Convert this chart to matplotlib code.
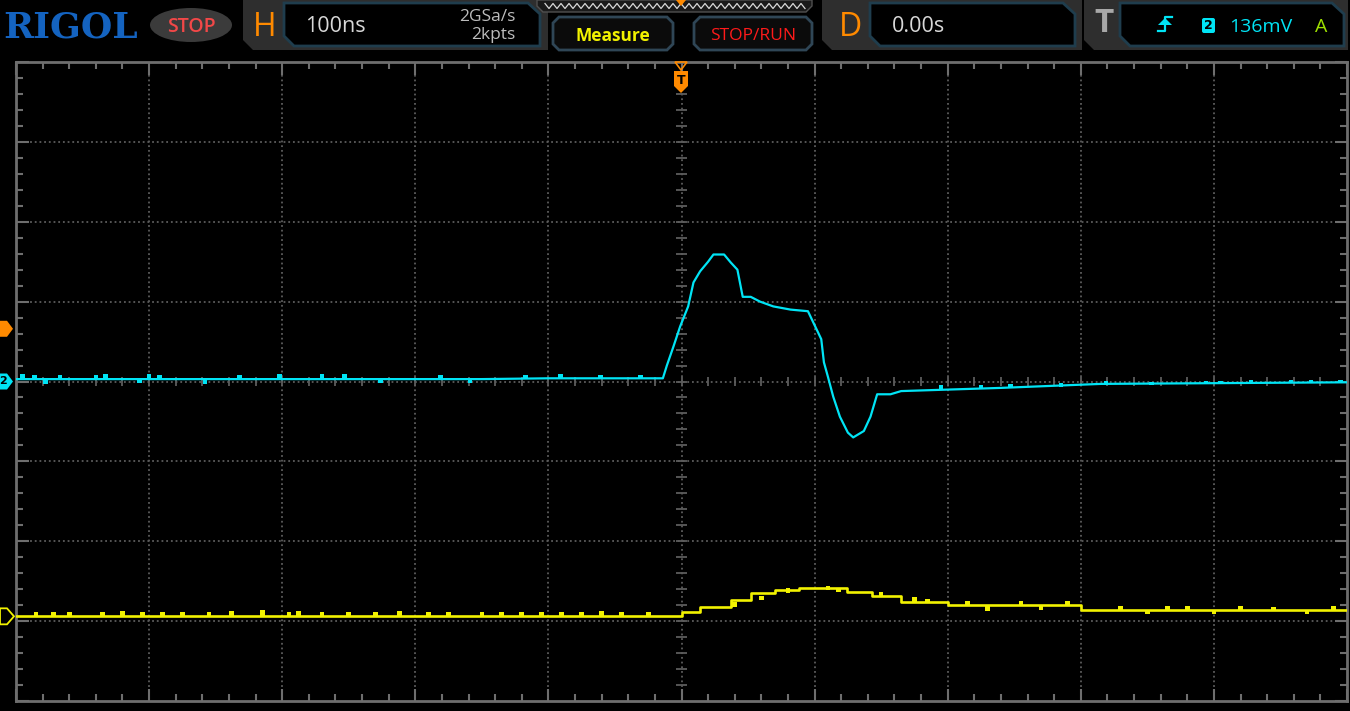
import numpy as np
import matplotlib.pyplot as plt
from matplotlib.patches import Polygon, FancyBboxPatch, Ellipse

# Screen geometry: 10 x 8 divisions, 100 ns/div
W, H = 1350, 711
X0, X1, Y0, Y1 = 16, 1347, 62, 701

# CH2 (cyan) trace: time in ns, level in divisions
ch2_t = [-500, -150, -100, -14, -11, -6, -1, 5, 9, 14, 20, 24, 32, 37, 42, 46, 52, 59, 69, 82,
         95, 99, 105, 107, 110, 114, 119, 125, 129, 137, 142, 147, 157, 165, 240, 315, 500]
ch2_v = [0.03, 0.03, 0.04, 0.04, 0.20, 0.44, 0.69, 0.94, 1.24, 1.38, 1.50, 1.59, 1.59, 1.49, 1.40,
         1.06, 1.06, 1.00, 0.94, 0.90, 0.88, 0.74, 0.53, 0.24, 0.06, -0.19, -0.44, -0.64, -0.70,
         -0.62, -0.44, -0.16, -0.16, -0.12, -0.08, -0.03, -0.01]

# CH2 noise glitches: time, base, peak (div)
ch2_glitch_t = [-495, -486, -478, -467, -440, -433, -407, -400, -392, -358, -332, -302, -270,
                -253, -226, -181, -159, -117, -91, -61, -31,
                195, 225, 247, 285, 319, 353, 394, 405, 428, 458, 473, 495]
ch2_glitch_lo = [0.03, 0.03, 0.03, 0.03, 0.03, 0.03, 0.03, 0.03, 0.03, 0.03, 0.03, 0.03, 0.03,
                 0.03, 0.03, 0.03, 0.03, 0.03, 0.04, 0.04, 0.04,
                 -0.10, -0.09, -0.08, -0.07, -0.04, -0.05, -0.03, -0.03, -0.02, -0.02, -0.02, -0.02]
ch2_glitch_hi = [0.09, 0.08, -0.03, 0.08, 0.08, 0.09, -0.02, 0.09, 0.08, -0.03, 0.08, 0.09, 0.10,
                 0.09, -0.02, 0.08, -0.02, 0.08, 0.09, 0.08, 0.08,
                 -0.05, -0.04, -0.03, -0.02, 0.01, 0.00, 0.01, 0.01, 0.02, 0.02, 0.02, 0.02]

# CH1 (yellow) trace, stepped
ch1_t = [-500, 0, 14, 37, 52, 70, 88, 124, 143, 165, 200, 300, 500]
ch1_v = [-2.94, -2.88, -2.82, -2.73, -2.65, -2.61, -2.58, -2.63, -2.69, -2.76, -2.80, -2.86, -2.86]

ch1_glitch_t = [-485, -472, -460, -435, -420, -405, -390, -375, -355, -338, -315, -295, -288, -270,
                -250, -230, -212, -190, -175, -150, -135, -120, -105, -90, -75, -60, -45, -25,
                40, 60, 80, 110, 118, 150, 175, 185, 215, 230, 255, 270, 290, 330, 350, 365,
                380, 400, 420, 445, 470, 490]
ch1_glitch_lo = [-2.94] * 28 + [-2.82, -2.73, -2.65, -2.61, -2.58, -2.69, -2.76, -2.76, -2.80,
                                -2.80, -2.80, -2.80, -2.80, -2.86, -2.86, -2.86, -2.86, -2.86,
                                -2.86, -2.86, -2.86, -2.86]
ch1_glitch_hi = [-2.88, -2.89, -2.88, -2.89, -2.87, -2.89, -2.88, -2.88, -2.89, -2.87, -2.86, -2.88,
                 -2.87, -2.89, -2.88, -2.89, -2.87, -2.89, -2.88, -2.89, -2.88, -2.89, -2.88, -2.89,
                 -2.88, -2.87, -2.88, -2.89, -2.76, -2.68, -2.58, -2.56, -2.63, -2.64, -2.70,
                 -2.72, -2.75, -2.87, -2.75, -2.86, -2.75, -2.81, -2.91, -2.81, -2.81, -2.91,
                 -2.81, -2.82, -2.91, -2.81]

trig_level = 0.66
ch1_offset = -2.94

CYAN = '#00e4f5'
YEL = '#f2f200'
ORANGE = '#ff8a00'
GRID = '#5c5c5c'
FRAME = '#6e6e6e'

fig = plt.figure(figsize=(W / 100, H / 100), dpi=100, facecolor='black')
ax = fig.add_axes([X0 / W, 1 - Y1 / H, (X1 - X0) / W, (Y1 - Y0) / H], facecolor='black')
ax.set_xlim(-500, 500)
ax.set_ylim(-4, 4)

# grid
for gx in np.arange(-400, 401, 100):
    ax.axvline(gx, color=GRID, lw=1.3, ls=(0, (1, 1.6)), zorder=1)
for gy in np.arange(-3, 4, 1):
    ax.axhline(gy, color=GRID, lw=1.3, ls=(0, (1, 1.6)), zorder=1)

# center-line ticks
mt = np.arange(-480, 481, 20)
ax.vlines(mt, -0.055, 0.055, color=GRID, lw=1.3, zorder=1)
mv = np.arange(-3.8, 3.81, 0.2)
ax.hlines(mv, -3.8, 3.8, color=GRID, lw=1.3, zorder=1)

for s in ax.spines.values():
    s.set_color(FRAME)
    s.set_linewidth(2)
ax.set_xticks(np.arange(-500, 501, 100))
ax.set_xticks(np.arange(-500, 501, 20), minor=True)
ax.set_yticks(np.arange(-4, 5, 1))
ax.set_yticks(np.arange(-4, 4.01, 0.2), minor=True)
ax.tick_params(which='both', direction='in', top=True, right=True, color=FRAME, width=1.5,
               labelbottom=False, labelleft=False)
ax.tick_params(which='major', length=9)
ax.tick_params(which='minor', length=5)

# traces
ax.plot(ch1_t, ch1_v, color=YEL, lw=1.9, drawstyle='steps-post', zorder=3)
lo = np.array(ch1_glitch_lo)
hi = np.array(ch1_glitch_hi)
ax.bar(ch1_glitch_t, hi - lo, bottom=lo, width=3.5, color=YEL, linewidth=0, zorder=3)
ax.plot(ch2_t, ch2_v, color=CYAN, lw=1.6, zorder=4)
lo = np.array(ch2_glitch_lo)
hi = np.array(ch2_glitch_hi)
ax.bar(ch2_glitch_t, hi - lo, bottom=lo, width=3.5, color=CYAN, linewidth=0, zorder=4)

# overlay in pixel coordinates for the screen chrome
ov = fig.add_axes([0, 0, 1, 1], facecolor='none')
ov.set_xlim(0, W)
ov.set_ylim(H, 0)
ov.axis('off')


def ypx(v):
    return Y0 + (4 - v) * (Y1 - Y0) / 8


def poly(pts, fc, ec='none', lw=1.0, z=5):
    ov.add_patch(Polygon(pts, closed=True, fc=fc, ec=ec, lw=lw, zorder=z))


# RIGOL logo and STOP badge
ov.text(3, 27, 'RIGOL', color='#1463c0', fontsize=26, fontweight='bold', family='DejaVu Serif',
        va='center', ha='left')
ov.add_patch(Ellipse((191, 25), 82, 34, fc='#3b3b3b', ec='none', zorder=5))
ov.text(191, 27, 'STOP', color='#f24848', fontsize=14, va='center', ha='center',
        family='Open Sans', fontweight='semibold', zorder=6)

# tabs: H, D, T
for (x_a, x_b, bx_a, bx_b) in [(243, 548, 284, 540), (822, 1082, 870, 1075), (1084, 1348, 1120, 1344)]:
    poly([(x_a, 0), (x_b, 0), (x_b, 50), (x_a + 10, 50), (x_a, 40)], '#2e2e2e')
    poly([(bx_a, 3), (bx_b - 12, 3), (bx_b, 14), (bx_b, 46), (bx_a + 10, 46), (bx_a, 36)],
         'black', ec='#1f3d4d', lw=2, z=6)

ov.text(265, 27, 'H', color=ORANGE, fontsize=23, va='center', ha='center', family='Open Sans', zorder=7)
ov.text(305, 27, '100ns', color='#d8d8d8', fontsize=15.5, va='center', ha='left', family='Open Sans', zorder=7)
ov.text(515, 17, '2GSa/s', color='#bcbcbc', fontsize=12.5, va='center', ha='right', family='Open Sans', zorder=7)
ov.text(515, 35, '2kpts', color='#bcbcbc', fontsize=12.5, va='center', ha='right', family='Open Sans', zorder=7)

ov.text(851, 27, 'D', color=ORANGE, fontsize=23, va='center', ha='center', family='Open Sans', zorder=7)
ov.text(892, 27, '0.00s', color='#d8d8d8', fontsize=15.5, va='center', ha='left', family='Open Sans', zorder=7)

ov.text(1104, 24, 'T', color='#a8a8a8', fontsize=24, va='center', ha='center', family='Open Sans',
        fontweight='bold', zorder=7)
ov.plot([1158, 1165, 1165, 1172], [31, 31, 17, 17], color=CYAN, lw=1.6, zorder=7)
poly([(1158, 25), (1172, 25), (1165, 18)], CYAN, z=7)
ov.add_patch(FancyBboxPatch((1202, 18), 13, 15, boxstyle='round,pad=0,rounding_size=2',
                            fc=CYAN, ec='none', zorder=7))
ov.text(1208.5, 25.5, '2', color='black', fontsize=9, fontweight='bold', va='center', ha='center', zorder=8)
ov.text(1229, 27, '136mV', color=CYAN, fontsize=14, va='center', ha='left', family='Open Sans', zorder=7)
ov.text(1321, 27, 'A', color='#9ee000', fontsize=14, va='center', ha='center', family='Open Sans', zorder=7)

# zigzag ribbon at top center
poly([(537, 0), (812, 0), (812, 6), (806, 12), (543, 12), (537, 6)], '#1a1a1a', ec='#505050', z=5)
zx = np.arange(545, 806, 4)
zy = np.where(np.arange(len(zx)) % 2 == 0, 3.5, 8.5)
ov.plot(zx, zy, color='#d8d8d8', lw=0.9, zorder=6)
poly([(676, 0), (686, 0), (681, 6)], ORANGE, z=7)

# Measure / STOP/RUN buttons
for (xa, xb, label, col) in [(553, 673, 'Measure', YEL), (694, 812, 'STOP/RUN', '#ff1a1a')]:
    poly([(xa + 6, 17), (xb - 6, 17), (xb, 23), (xb, 44), (xb - 6, 50), (xa + 6, 50), (xa, 44), (xa, 23)],
         '#0b0b0b', ec='#2f4656', lw=2)
    ov.text((xa + xb) / 2, 36, label, color=col, fontsize=12.5, va='center', ha='center',
            family='Open Sans', fontweight='bold' if label == 'Measure' else 'normal', zorder=7)

# trigger position marker at top
poly([(675, 62), (687, 62), (681, 70)], 'none', ec=ORANGE, lw=1.2, z=8)
poly([(674, 71), (688, 71), (688, 86), (681, 93), (674, 86)], ORANGE, z=8)
ov.text(681, 80, 'T', color='black', fontsize=9, fontweight='bold', va='center', ha='center', zorder=9)

# left markers
ty = ypx(trig_level)
poly([(0, ty - 8), (7, ty - 8), (13, ty), (7, ty + 8), (0, ty + 8)], ORANGE, z=8)
cy = ypx(0)
poly([(0, cy - 8), (7, cy - 8), (13, cy), (7, cy + 8), (0, cy + 8)], CYAN, z=8)
ov.text(3, cy, '2', color='black', fontsize=8, fontweight='bold', va='center', ha='center', zorder=9)
yy = ypx(ch1_offset)
poly([(0, yy - 8), (7, yy - 8), (14, yy), (7, yy + 8), (0, yy + 8)], 'black', ec=YEL, lw=1.3, z=8)

fig.savefig('out.png', dpi=100, facecolor='black')
